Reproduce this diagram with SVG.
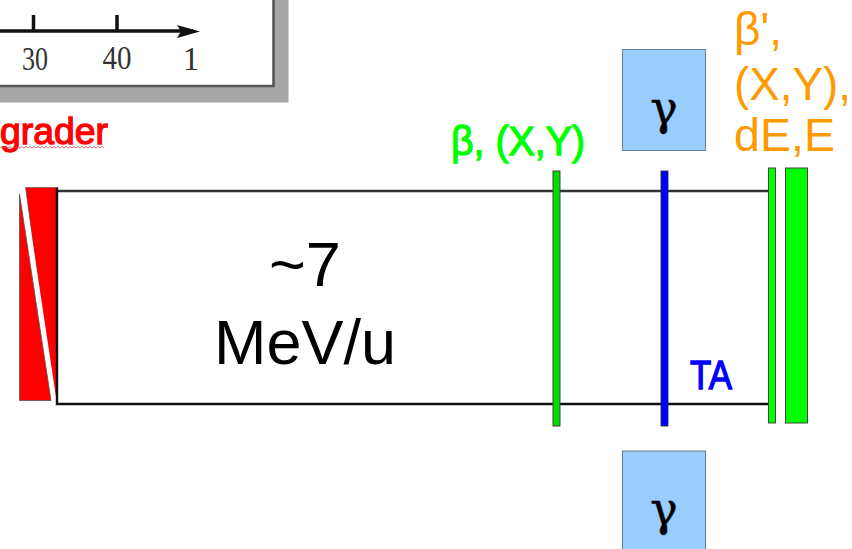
<svg xmlns="http://www.w3.org/2000/svg" width="852" height="549" viewBox="0 0 852 549">
<defs><style>
.s{font-family:"Liberation Sans",Arial,sans-serif}
.g{font-family:"DejaVu Serif",serif;font-size:46px;fill:#000;text-anchor:middle;stroke:#000;stroke-width:0.500}
.o{fill:#f90;font-size:46px}
.gb{fill:#9cf;stroke:#6b7c8c;stroke-width:1}
.bar{stroke:#444;stroke-width:1}
.ax{font-family:"Liberation Serif",serif;font-size:33px;fill:#333;text-anchor:middle}
</style></defs>
<rect width="852" height="549" fill="#fff"/>
<g id="inset">
<rect x="-10" y="-10" width="298.500" height="112.500" fill="#a6a6a6"/>
<rect x="-10" y="-10" width="283.500" height="96" fill="#fff" stroke="#555" stroke-width="2.500"/>
<path d="M0 31H193" stroke="#111" stroke-width="3.500" fill="none"/>
<path d="M33.500 31V15M117 31V15" stroke="#111" stroke-width="3.500" fill="none"/>
<path d="M177 25L200 31.500L177 38L181 31.500Z" fill="#111"/>
<text class="ax" x="35" y="70" textLength="26" lengthAdjust="spacingAndGlyphs">30</text>
<text class="ax" x="117" y="69" textLength="29" lengthAdjust="spacingAndGlyphs">40</text>
<text class="ax" x="191" y="70">1</text>
</g>
<g id="degrader-label">
<text class="s" x="0" y="144" font-size="37" fill="#f00" stroke="#f00" stroke-width="1.300" textLength="108" lengthAdjust="spacingAndGlyphs">grader</text>
<path d="M0 148l2-1.500 2 1.500 2-1.500 2 1.500 2-1.500 2 1.500 2-1.500 2 1.500 2-1.500 2 1.500 2-1.500 2 1.500 2-1.500 2 1.500 2-1.500 2 1.500 2-1.500 2 1.500 2-1.500 2 1.500 2-1.500 2 1.500 2-1.500 2 1.500 2-1.500 2 1.500 2-1.500 2 1.500 2-1.500 2 1.500 2-1.500 2 1.500 2-1.500 2 1.500 2-1.500 2 1.500 2-1.500 2 1.500 2-1.500 2 1.500 2-1.500 2 1.500 2-1.500 2 1.500 2-1.500 2 1.500 2-1.500 2 1.500 2-1.500 2 1.500 2-1.500 2 1.500" fill="none" stroke="#e05050" stroke-width="0.800"/>
</g>
<g id="degrader">
<polygon points="25.500,187.500 57.500,187.500 57.500,400 54,400" fill="#f00" stroke="#555" stroke-width="0.600"/>
<polygon points="19.500,194 51,400.500 19.500,400.500" fill="#f00" stroke="#555" stroke-width="0.800"/>
<path d="M22.500 190L54.500 402" stroke="#fff" stroke-width="4.500" fill="none"/>
</g>
<g id="connectors" fill="none" stroke-width="2.400">
<path d="M57 191H769" stroke="#333"/>
<path d="M57 187.500V404H769" stroke="#111"/>
</g>
<g id="energy-label">
<text class="s" x="305" y="286" font-size="63" text-anchor="middle" fill="#000">~7</text>
<text class="s" x="305" y="364" font-size="63" text-anchor="middle" fill="#000" textLength="182" lengthAdjust="spacingAndGlyphs">MeV/u</text>
</g>
<g id="beta-detector">
<rect class="bar" x="553" y="171" width="7" height="255" fill="#0d0"/>
<text class="s" x="451" y="155" font-size="41" fill="#0f0" stroke="#0f0" stroke-width="1.300" textLength="134" lengthAdjust="spacingAndGlyphs">β, (X,Y)</text>
</g>
<g id="target">
<rect x="661" y="171" width="7" height="255" fill="#00f" stroke="#223" stroke-width="0.800"/>
<text class="s" x="690" y="389" font-size="40" fill="#00f" stroke="#00f" stroke-width="1.300" textLength="42" lengthAdjust="spacingAndGlyphs">TA</text>
</g>
<g id="gamma-top">
<rect class="gb" x="622.500" y="49.500" width="83" height="101"/>
<text class="g" x="664" y="124">γ</text>
</g>
<g id="gamma-bottom">
<rect class="gb" x="622.500" y="451" width="83" height="110"/>
<text class="g" x="664" y="525">γ</text>
</g>
<g id="beta-prime-detector">
<rect class="bar" x="768.500" y="168" width="7" height="255" fill="#0f0"/>
<rect class="bar" x="785.500" y="168" width="22" height="255" fill="#0f0"/>
<text class="s o" x="734" y="45">β',</text>
<text class="s o" x="734" y="100" textLength="117" lengthAdjust="spacingAndGlyphs">(X,Y),</text>
<text class="s o" x="734" y="151" textLength="101" lengthAdjust="spacingAndGlyphs">dE,E</text>
</g>
</svg>
